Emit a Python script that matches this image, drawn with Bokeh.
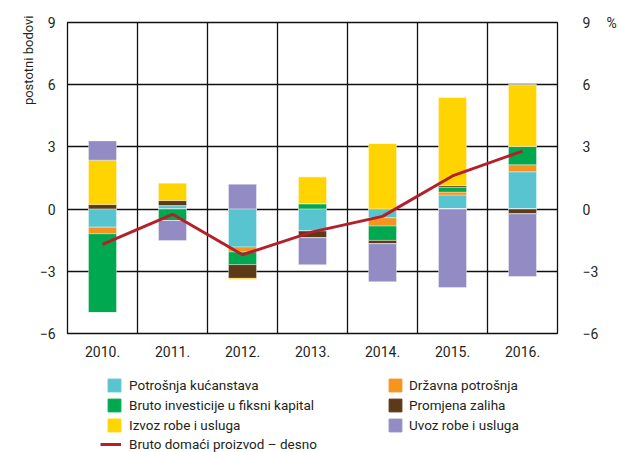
import numpy as np
from bokeh.plotting import figure
from bokeh.layouts import column
from bokeh.models import (ColumnDataSource, FixedTicker, LinearAxis, Range1d,
                          Legend, LegendItem, Title)
from bokeh.embed import file_html
from bokeh.resources import INLINE

years = ["2010.", "2011.", "2012.", "2013.", "2014.", "2015.", "2016."]
potrosnja = [-0.87, 0.17, -1.83, -1.06, -0.42, 0.68, 1.80]
drzavna = [-0.32, 0.0, -0.24, 0.0, -0.40, 0.14, 0.34]
investicije = [-3.81, -0.55, -0.61, 0.26, -0.69, 0.23, 0.88]
zalihe = [0.22, 0.24, -0.66, -0.32, -0.16, 0.08, -0.23]
izvoz = [2.14, 0.85, -0.07, 1.30, 3.17, 4.26, 2.98]
uvoz = [0.93, -0.97, 1.20, -1.30, -1.83, -3.78, -3.02]
bdp = [-1.7, -0.25, -2.2, -1.1, -0.35, 1.6, 2.8]

names = ["Potrošnja kućanstava", "Državna potrošnja", "Bruto investicije u fiksni kapital",
         "Promjena zaliha", "Izvoz robe i usluga", "Uvoz robe i usluga"]
line_name = "Bruto domaći proizvod – desno"
series = [potrosnja, drzavna, investicije, zalihe, izvoz, uvoz]
colors = ["#58C4CF", "#F7941D", "#00A94F", "#5C3A17", "#FFD400", "#938CC4"]
line_color = "#B4202A"
yticks = [-6, -3, 0, 3, 6, 9]

FONT = "Roboto"
TXT = "#231F20"
FS = "14px"

xpos = np.arange(len(years)) + 0.5
data = {"x": xpos, "bdp": bdp}
pos_keys, neg_keys = [], []
for i, s in enumerate(series):
    arr = np.array(s, dtype=float)
    data[f"p{i}"] = np.where(arr > 0, arr, 0.0)
    data[f"n{i}"] = np.where(arr < 0, arr, 0.0)
    pos_keys.append(f"p{i}")
    neg_keys.append(f"n{i}")
src = ColumnDataSource(data)

p = figure(width=619, height=370, output_backend="svg", toolbar_location=None,
           x_range=Range1d(0, len(years)), y_range=Range1d(-6, 9),
           min_border_left=67, min_border_right=60, min_border_top=22,
           min_border_bottom=37)
p.outline_line_color = "#111111"
p.outline_line_width = 1.3

p.vbar_stack(pos_keys, x="x", width=0.4, source=src, color=colors,
             line_color="white", line_alpha=0.6, line_width=0.6)
p.vbar_stack(neg_keys, x="x", width=0.4, source=src, color=colors,
             line_color="white", line_alpha=0.6, line_width=0.6)
p.line("x", "bdp", source=src, line_color=line_color, line_width=3)

minus = {v: str(v).replace("-", "\u2212") for v in yticks}


def style_axis(ax):
    ax.axis_line_color = None
    ax.major_tick_line_color = None
    ax.minor_tick_line_color = None
    ax.major_tick_out = 0
    ax.major_tick_in = 0
    ax.minor_tick_out = 0
    ax.minor_tick_in = 0
    ax.major_label_text_font = FONT
    ax.major_label_text_font_size = FS
    ax.major_label_text_color = TXT


la = p.yaxis[0]
la.ticker = FixedTicker(ticks=yticks)
la.major_label_overrides = minus
style_axis(la)
la.major_label_standoff = 12

ra = LinearAxis(ticker=FixedTicker(ticks=yticks), major_label_overrides=minus)
style_axis(ra)
ra.major_label_text_align = "right"
ra.major_label_standoff = 25
p.add_layout(ra, "right")

pa = LinearAxis(ticker=FixedTicker(ticks=[yticks[-1]]),
                major_label_overrides={yticks[-1]: "%"})
style_axis(pa)
pa.major_label_standoff = 5
p.add_layout(pa, "right")

xa = p.xaxis[0]
xa.ticker = FixedTicker(ticks=list(xpos))
xa.major_label_overrides = {float(x): y for x, y in zip(xpos, years)}
style_axis(xa)
xa.major_label_standoff = 12

p.add_layout(Title(text="postotni bodovi", align="right", offset=-7,
                   text_font=FONT, text_font_size="13px", text_font_style="normal",
                   text_color=TXT, standoff=2), "left")

p.ygrid.ticker = FixedTicker(ticks=yticks)
p.ygrid.grid_line_color = "#111111"
p.ygrid.grid_line_width = 1.3
p.xgrid.ticker = FixedTicker(ticks=list(range(1, len(years))))
p.xgrid.grid_line_color = "#111111"
p.xgrid.grid_line_width = 1.3

# ---- legend panel (separate canvas; its frame is aligned with the chart's) ----
lf = figure(width=619, height=82, output_backend="svg", toolbar_location=None,
            x_axis_location=None, y_axis_location=None, min_border=0,
            x_range=Range1d(0, 1), y_range=Range1d(0, 1))
lf.outline_line_color = None
lf.xgrid.visible = False
lf.ygrid.visible = False

nan = [np.nan]
dummy = [lf.vbar(x=nan, top=nan, width=0.5, color=c) for c in colors]
dline = lf.line(x=nan, y=nan, line_color=line_color, line_width=3)


def mk_legend(items, loc, gw, gh, lh, standoff):
    lg = Legend(items=items, location=loc, orientation="vertical",
                padding=0, margin=0, spacing=0, border_line_color=None,
                background_fill_alpha=0, glyph_width=gw, glyph_height=gh,
                label_height=lh, label_standoff=standoff,
                label_text_font=FONT, label_text_font_size="13.5px",
                label_text_color=TXT)
    lf.add_layout(lg, "center")


def item(i):
    return LegendItem(label=names[i], renderers=[dummy[i]])


mk_legend([item(0), item(2), item(4)], (39, 17), 16, 16, 20, 7)
mk_legend([item(1), item(3), item(5)], (320, 17), 16, 16, 20, 6)
mk_legend([LegendItem(label=line_name, renderers=[dline])], (33, 0), 21, 16, 16, 8)

layout = column(p, lf, spacing=0)
open("out.html", "w").write(file_html(layout, INLINE))
